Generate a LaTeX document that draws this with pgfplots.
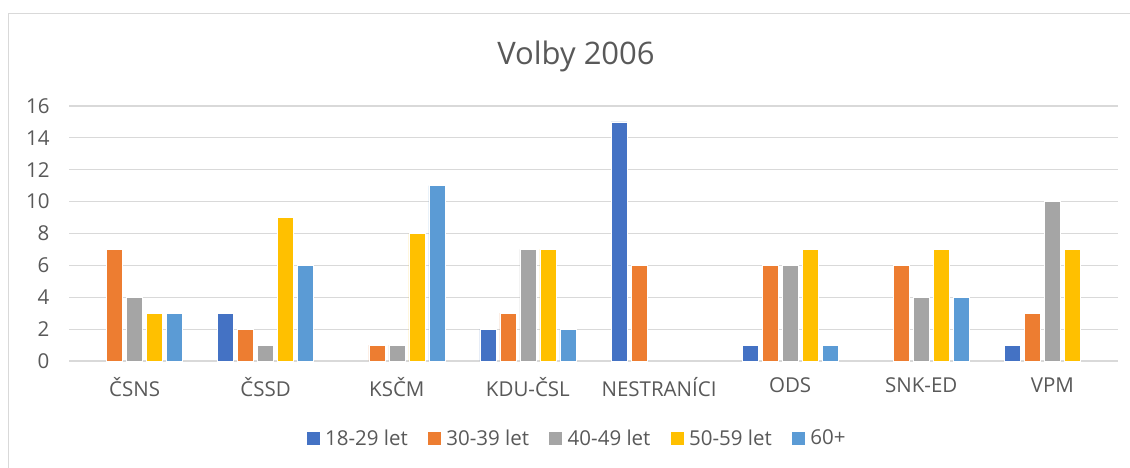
\documentclass[border=0pt]{standalone}
\usepackage{fontspec}
\setmainfont{Open Sans}
\usepackage{pgfplots}
\pgfplotsset{compat=1.18}
\definecolor{c1}{HTML}{4472C4}
\definecolor{c2}{HTML}{ED7D31}
\definecolor{c3}{HTML}{A5A5A5}
\definecolor{c4}{HTML}{FFC000}
\definecolor{c5}{HTML}{5B9BD5}
\definecolor{txt}{HTML}{595959}
\definecolor{gridc}{HTML}{D9D9D9}
\begin{document}
\begin{tikzpicture}
\clip (0,0) rectangle (1130pt,467pt);
\fill[white] (0,0) rectangle (1130pt,467pt);
\draw[gridc, line width=1.5pt] (8.5pt,-20pt) -- (8.5pt,453.5pt) -- (1150pt,453.5pt);
\node[text=txt, font=\fontsize{31}{37}\selectfont] at (576pt,411pt) {Volby 2006};
\begin{axis}[
  at={(69pt,106pt)}, anchor=south west,
  scale only axis, width=1049pt, height=255pt,
  xmin=-0.5, xmax=7.5, ymin=0, ymax=16,
  ybar=4pt, bar width=16pt,
  xtick={0,...,7},
  xticklabels={ČSNS,ČSSD,KSČM,KDU-ČSL,NESTRANÍCI,ODS,SNK-ED,VPM},
  ytick={0,2,...,16},
  ymajorgrids, grid style={gridc, line width=1.2pt},
  axis line style={draw=none},
  major tick length=0pt,
  tick label style={text=txt, font=\fontsize{20.5}{24}\selectfont},
  /pgf/number format/assume math mode=true,
  yticklabel style={xshift=-16pt},
  xticklabel style={yshift=-13pt},
  legend style={at={(0.4843,-0.302)}, anchor=center, draw=none, fill=none,
    font=\fontsize{20.5}{24}\selectfont, text=txt,
    /tikz/every even column/.append style={column sep=18pt}},
  legend columns=5,
  legend image code/.code={\path (0pt,0pt) -- (16pt,0pt); \fill[#1,draw=none] (0pt,-6.5pt) rectangle (13pt,6.5pt);},
  every axis plot/.append style={draw=white, line width=0.6pt},
]
\addplot[fill=c1] coordinates {(1,3) (3,2) (4,15) (5,1) (7,1)};
\addplot[fill=c2] coordinates {(0,7) (1,2) (2,1) (3,3) (4,6) (5,6) (6,6) (7,3)};
\addplot[fill=c3] coordinates {(0,4) (1,1) (2,1) (3,7) (5,6) (6,4) (7,10)};
\addplot[fill=c4] coordinates {(0,3) (1,9) (2,8) (3,7) (5,7) (6,7) (7,7)};
\addplot[fill=c5] coordinates {(0,3) (1,6) (2,11) (3,2) (5,1) (6,4)};
\legend{18-29 let,30-39 let,40-49 let,50-59 let,60+}
\end{axis}
\end{tikzpicture}
\end{document}
